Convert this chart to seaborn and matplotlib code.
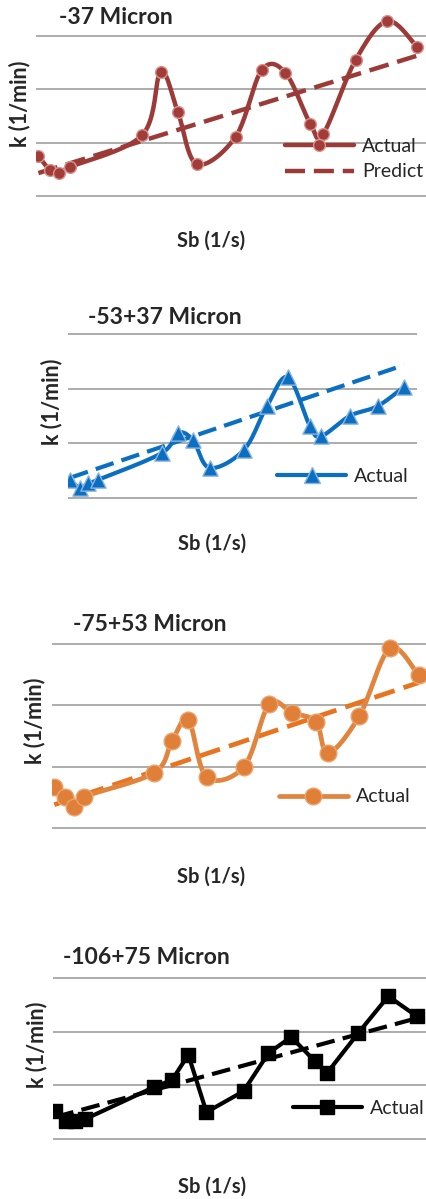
import numpy as np
import pandas as pd
import matplotlib.pyplot as plt
import seaborn as sns
from matplotlib.lines import Line2D

# ---- data (arbitrary units, gridlines at 0..3) ----
sb = [0.6, 3.5, 5.8, 8.5, 26.8, 31.5, 35.8, 40.6, 50.4, 57.0, 63.0, 69.3, 72.5, 80.7, 88.7, 96.2]

k_37 = [0.75, 0.49, 0.43, 0.54, 1.14, 2.33, 1.58, 0.60, 1.11, 2.36, 2.31, 1.35, 1.16, 2.55, 3.28, 2.80]
k_53 = [0.33, 0.18, 0.27, 0.33, 0.82, 1.19, 1.06, 0.55, 0.88, 1.68, 2.21, 1.32, 1.13, 1.50, 1.68, 2.03]
k_75 = [0.67, 0.51, 0.34, 0.51, 0.90, 1.42, 1.76, 0.83, 1.00, 2.02, 1.88, 1.73, 1.22, 1.83, 2.93, 2.49]
k_106 = [0.52, 0.34, 0.34, 0.37, 0.97, 1.10, 1.57, 0.50, 0.89, 1.60, 1.90, 1.45, 1.23, 1.97, 2.66, 2.29]

# predicted line, value at first and last Sb
pred_37 = [0.43, 2.63]
pred_53 = [0.37, 2.43]
pred_75 = [0.38, 2.37]
pred_106 = [0.41, 2.25]

titles = ['-37 Micron', '-53+37 Micron', '-75+53 Micron', '-106+75 Micron']

sns.set_style('white')
plt.rcParams['font.family'] = ['Lato', 'DejaVu Sans']

W, H = 427, 1199


def smooth(x, y, n=24):
    # Excel-style smoothed line (Bezier through the points)
    p = np.column_stack([x, y]).astype(float)
    out = [p[0]]
    t = np.linspace(0, 1, n)[1:, None]
    for i in range(len(p) - 1):
        p0 = p[i - 1] if i > 0 else p[i]
        p3 = p[i + 2] if i + 2 < len(p) else p[i + 1]
        c1 = p[i] + (p[i + 1] - p0) / 6
        c2 = p[i + 1] - (p3 - p[i]) / 6
        seg = (1 - t) ** 3 * p[i] + 3 * (1 - t) ** 2 * t * c1 + 3 * (1 - t) * t ** 2 * c2 + t ** 3 * p[i + 1]
        out.extend(seg)
    return np.array(out)


panels = [
    dict(k=k_37, pred=pred_37, top=36, zero=196, left=36, right=432,
         color='#9B3A36', face='#A23C38', edge='#D9938F', marker='o', ms=8.5, lw=3.2,
         smooth=True, title=(59, 17), ylab=(20, 104), xlab=(211, 241), leg=(285, 159), both=True),
    dict(k=k_53, pred=pred_53, top=334, zero=498, left=68, right=417,
         color='#0A6FC0', face='#0A6FC0', edge='#8CB4E2', marker='^', ms=11, lw=3.0,
         smooth=True, title=(88, 317), ylab=(52, 402), xlab=(212, 544), leg=(277, 476), both=False),
    dict(k=k_75, pred=pred_75, top=644, zero=828, left=52, right=433,
         color='#E0843E', face='#DF7F38', edge='#EBA46E', marker='o', ms=12, lw=3.4,
         smooth=True, title=(73, 624), ylab=(35, 721), xlab=(211, 877), leg=(279, 797), both=False,
         pcolor='#E8741F'),
    dict(k=k_106, pred=pred_106, top=978, zero=1139, left=53, right=431,
         color='#000000', face='#000000', edge='#000000', marker='s', ms=10.5, lw=3.0,
         smooth=False, title=(63, 957), ylab=(37, 1045), xlab=(212, 1187), leg=(293, 1108), both=False),
]

fig = plt.figure(figsize=(W / 100, H / 100), dpi=100)
ylo, yhi = -0.25, 3.6
leg_fs = 14

for p, title in zip(panels, titles):
    scale = (p['zero'] - p['top']) / 3.0
    top_px = p['zero'] - yhi * scale
    bot_px = p['zero'] - ylo * scale
    ax = fig.add_axes([p['left'] / W, 1 - bot_px / H, (p['right'] - p['left']) / W, (bot_px - top_px) / H])

    df = pd.DataFrame({'Sb': sb, 'k': p['k']})
    pdf = pd.DataFrame({'Sb': [sb[0], sb[-1]], 'k': p['pred']})
    pcol = p.get('pcolor', p['color'])

    sns.lineplot(data=pdf, x='Sb', y='k', ax=ax, color=pcol, lw=p['lw'],
                 dashes=False, linestyle=(0, (4.5, 2.0)), zorder=2)
    if p['smooth']:
        c = smooth(sb, p['k'])
        cdf = pd.DataFrame({'Sb': c[:, 0], 'k': c[:, 1]})
    else:
        cdf = df
    sns.lineplot(data=cdf, x='Sb', y='k', ax=ax, sort=False, estimator=None,
                 color=p['color'], lw=p['lw'], zorder=3)
    sns.scatterplot(data=df, x='Sb', y='k', ax=ax, marker=p['marker'], s=p['ms'] ** 2,
                    color=p['face'], edgecolor=p['edge'], linewidth=1.0, zorder=4)

    ax.set_xlim(0, 100)
    ax.set_ylim(ylo, yhi)
    ax.set_yticks([0, 1, 2, 3])
    ax.set_xticks([])
    ax.set_yticklabels([])
    ax.tick_params(length=0)
    ax.yaxis.grid(True, color='#A6A6A6', lw=1.3)
    ax.set_axisbelow(True)
    for s in ax.spines.values():
        s.set_visible(False)
    ax.set_xlabel('')
    ax.set_ylabel('')
    ax.patch.set_alpha(0)

    handles = [Line2D([], [], color=p['color'], lw=p['lw'], marker=p['marker'], ms=p['ms'],
                      markerfacecolor=p['face'], markeredgecolor=p['edge'], markeredgewidth=1.0)]
    labels = ['Actual']
    if p['both']:
        handles.append(Line2D([], [], color=pcol, lw=p['lw'], linestyle=(0, (4.5, 2.0))))
        labels.append('Predict')
    hl = 69 / (leg_fs * 100 / 72)
    ax.legend(handles, labels, loc='center left', frameon=False, fontsize=leg_fs,
              bbox_to_anchor=(p['leg'][0] / W, 1 - p['leg'][1] / H), bbox_transform=fig.transFigure,
              borderpad=0, borderaxespad=0, handlelength=hl, handletextpad=0.4, labelspacing=0.45)

    fig.text(p['title'][0] / W, 1 - p['title'][1] / H, title, fontsize=16.5, fontweight='bold',
             ha='left', va='center')
    fig.text(p['ylab'][0] / W, 1 - p['ylab'][1] / H, 'k (1/min)', fontsize=15.5, fontweight='bold',
             rotation=90, ha='center', va='center')
    fig.text(p['xlab'][0] / W, 1 - p['xlab'][1] / H, 'Sb (1/s)', fontsize=14.5, fontweight='bold',
             ha='center', va='center')

fig.savefig('out.png', dpi=100)
